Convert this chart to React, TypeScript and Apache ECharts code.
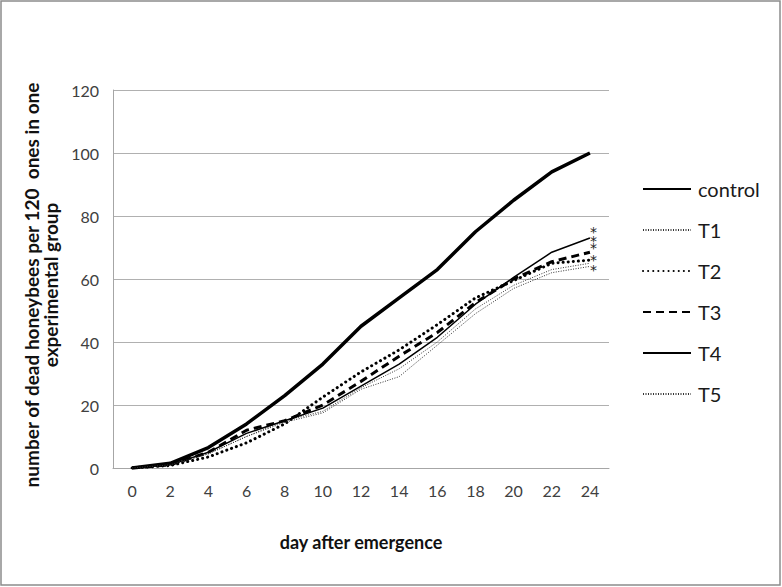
import React, { useEffect, useRef } from "react";
import * as echarts from "echarts";

const days = ["0", "2", "4", "6", "8", "10", "12", "14", "16", "18", "20", "22", "24"];
const control = [0, 1.5, 6.5, 14, 23, 33, 45, 54, 63, 75, 85, 94, 100];
const t1 = [0, 1, 4.5, 10, 15, 18, 25.5, 31.5, 40, 50.5, 58, 63, 65];
const t2 = [0, 0.8, 3.5, 8, 14, 22.5, 30.5, 37.5, 45.5, 54, 59.5, 65, 66];
const t3 = [0, 1, 5, 12, 15, 20, 27.5, 35.5, 43, 52.5, 60, 65.5, 68.5];
const t4 = [0, 1, 5, 11, 15, 19, 26, 33, 41.5, 52, 60.5, 68.5, 73];
const t5 = [0, 1, 4.5, 10, 14.5, 17.5, 25, 29, 39, 49, 57, 62, 64];
const seriesNames = ["control", "T1", "T2", "T3", "T4", "T5"];
const yTitleLine1 = "number of dead honeybees per 120\u00a0 ones in one";
const yTitleLine2 = "experimental group";
const xTitle = "day after emergence";
const significance = "*";

const FONT = "Lato, 'Open Sans', sans-serif";

export default function App() {
  const ref = useRef<HTMLDivElement>(null);
  useEffect(() => {
    document.body.style.margin = "0";
    const chart = echarts.init(ref.current!, null, { renderer: "svg" });
    const star = (dy: number) => ({
      show: true,
      formatter: significance,
      color: "#222",
      fontSize: 14,
      lineHeight: 7,
      fontFamily: "'DejaVu Sans', sans-serif",
      distance: 0,
      offset: [0, dy],
    });
    const mk = (name: string, data: number[], lineStyle: any, endDy?: number) => ({
      name,
      type: "line",
      data,
      showSymbol: false,
      symbol: "none",
      smooth: false,
      lineStyle,
      itemStyle: { color: "#000" },
      endLabel: endDy === undefined ? { show: false } : star(endDy),
      z: 3,
    });
    chart.setOption({
      animation: false,
      textStyle: { fontFamily: FONT },
      grid: { left: 113, right: 173, top: 90, bottom: 119, containLabel: false },
      legend: {
        orient: "vertical",
        left: 637,
        top: 174,
        itemWidth: 48,
        itemHeight: 14,
        itemGap: 21,
        itemStyle: { opacity: 0 },
        textStyle: { fontSize: 20, color: "#1a1a1a", fontFamily: FONT, padding: [0, 0, 0, 2] },
        data: seriesNames,
      },
      xAxis: {
        type: "category",
        data: days,
        boundaryGap: true,
        axisLine: { lineStyle: { color: "#a6a6a6", width: 1 } },
        axisTick: { show: false },
        axisLabel: { fontSize: 16, color: "#404040", margin: 14, fontFamily: FONT },
        name: xTitle,
        nameLocation: "middle",
        nameGap: 65,
        nameTextStyle: { fontSize: 18, fontWeight: "bold", color: "#111", fontFamily: FONT },
      },
      yAxis: {
        type: "value",
        min: 0,
        max: 120,
        interval: 20,
        axisLine: { show: true, lineStyle: { color: "#a6a6a6", width: 1 } },
        axisTick: { show: false },
        splitLine: { lineStyle: { color: "#b0b0b0", width: 1 } },
        axisLabel: { fontSize: 16, color: "#404040", margin: 14, fontFamily: FONT },
        name: "{a|" + yTitleLine1 + "}\n{b|" + yTitleLine2 + "}",
        nameLocation: "middle",
        nameRotate: 90,
        nameGap: 53,
        nameTextStyle: {
          fontWeight: "bold",
          color: "#111",
          fontFamily: FONT,
          align: "center",
          padding: [0, 12, 0, 0],
          rich: {
            a: { fontSize: 19, fontWeight: "bold", color: "#111", fontFamily: FONT, lineHeight: 19 },
            b: { fontSize: 19, fontWeight: "bold", color: "#111", fontFamily: FONT, lineHeight: 19 },
          },
        },
      },
      series: [
        mk("control", control, { color: "#000", width: 3.5, type: "solid" }),
        mk("T1", t1, { color: "#333", width: 1, type: [1, 1.5] }, -3),
        mk("T2", t2, { color: "#000", width: 3, type: [0.1, 5], cap: "round" }, -12),
        mk("T3", t3, { color: "#000", width: 3, type: [8, 5] }, -11),
        mk("T4", t4, { color: "#000", width: 1.5, type: "solid" }, -6),
        mk("T5", t5, { color: "#333", width: 1, type: [1, 1.5] }, 4),
      ],
      graphic: [
        {
          type: "rect",
          shape: { x: 1, y: 1, width: 779, height: 584 },
          style: { fill: "none", stroke: "#8c8c8c", lineWidth: 1.5 },
          silent: true,
        },
      ],
    });
    return () => chart.dispose();
  }, []);
  return <div ref={ref} style={{ width: 782, height: 587 }} />;
}
